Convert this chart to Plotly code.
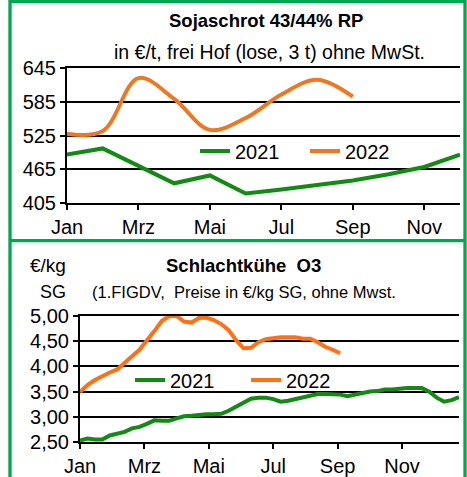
import plotly.graph_objects as go

# ---------------- data ----------------
tick_months = ["Jan", "Mrz", "Mai", "Jul", "Sep", "Nov"]

# Sojaschrot (monthly, €/t)
soja_month_idx_2021 = list(range(12))
soja_2021 = [491, 502, 471, 440, 454, 422, 429, 437, 445, 456, 469, 491]
soja_month_idx_2022 = list(range(9))
soja_2022 = [528, 533, 627, 590, 535, 556, 598, 624, 594]

# Schlachtkühe O3 (weekly, €/kg SG)
kuh_weeks_2021 = list(range(1, 53))
kuh_2021 = [2.53, 2.57, 2.55, 2.55, 2.63, 2.66, 2.70, 2.77, 2.80, 2.86,
            2.93, 2.92, 2.92, 2.97, 3.01, 3.02, 3.04, 3.05, 3.05, 3.06,
            3.12, 3.20, 3.30, 3.36, 3.38, 3.38, 3.35, 3.30, 3.32, 3.35,
            3.38, 3.42, 3.45, 3.45, 3.45, 3.44, 3.41, 3.44, 3.45, 3.50,
            3.51, 3.54, 3.54, 3.56, 3.57, 3.57, 3.57, 3.50, 3.38, 3.30,
            3.33, 3.39]
kuh_weeks_2022 = list(range(1, 37))
kuh_2022 = [3.49, 3.63, 3.73, 3.81, 3.88, 3.94, 4.08, 4.20, 4.33, 4.50,
            4.70, 4.90, 5.00, 5.00, 4.89, 4.87, 4.96, 4.97, 4.92, 4.84,
            4.72, 4.52, 4.36, 4.37, 4.48, 4.54, 4.57, 4.58, 4.58, 4.58,
            4.55, 4.55, 4.48, 4.39, 4.33, 4.26]

soja_yticks = [405, 465, 525, 585, 645]
kuh_yticks = [2.5, 3.0, 3.5, 4.0, 4.5, 5.0]

# ---------------- style ----------------
W, H = 467, 477
FONT = "Liberation Sans, Arial, Helvetica, sans-serif"
GREEN = "#138A13"
ORANGE_TOP = "#EE7722"
ORANGE_BOT = "#FF7014"
FRAME = "#00A651"

def px(x):
    return x / W

def py(y):
    return (H - y) / H

fig = go.Figure()

fig.add_trace(go.Scatter(x=soja_month_idx_2021, y=soja_2021, mode="lines", name="2021",
                         line=dict(color=GREEN, width=4), xaxis="x", yaxis="y", legend="legend"))
fig.add_trace(go.Scatter(x=soja_month_idx_2022, y=soja_2022, mode="lines", name="2022",
                         line=dict(color=ORANGE_TOP, width=4, shape="spline", smoothing=1.0),
                         xaxis="x", yaxis="y", legend="legend"))

fig.add_trace(go.Scatter(x=kuh_weeks_2021, y=kuh_2021, mode="lines", name="2021",
                         line=dict(color=GREEN, width=4), xaxis="x2", yaxis="y2", legend="legend2"))
fig.add_trace(go.Scatter(x=kuh_weeks_2022, y=kuh_2022, mode="lines", name="2022",
                         line=dict(color=ORANGE_BOT, width=4), xaxis="x2", yaxis="y2", legend="legend2"))

axis_common = dict(showline=True, linecolor="black", linewidth=2, ticks="outside",
                   ticklen=5, tickwidth=2, tickcolor="black", zeroline=False,
                   automargin=False,
                   tickfont=dict(family=FONT, size=20, color="black"))

kuh_tickvals = [1 + i * 52 / 12 for i in range(0, 12, 2)]

fig.update_layout(
    template="none",
    width=W, height=H, autosize=False,
    margin=dict(l=0, r=0, t=0, b=0, pad=0),
    paper_bgcolor="white", plot_bgcolor="white",
    separators=",.",
    font=dict(family=FONT, size=18, color="black"),
    xaxis=dict(domain=[px(67), px(460)], range=[0, 11], anchor="y",
               tickvals=[0, 2, 4, 6, 8, 10], ticktext=tick_months,
               showgrid=False, mirror=True, **axis_common),
    yaxis=dict(domain=[py(203), py(68)], range=[405, 645], anchor="x",
               tickvals=soja_yticks, showgrid=True, gridcolor="black", gridwidth=2,
               **axis_common),
    xaxis2=dict(domain=[px(80), px(459)], range=[1, 52], anchor="y2",
                tickvals=kuh_tickvals, ticktext=tick_months,
                showgrid=False, mirror=True, **axis_common),
    yaxis2=dict(domain=[py(442), py(316)], range=[2.5, 5.0], anchor="x2",
                tickvals=kuh_yticks, tickformat=".2f", showgrid=True, gridcolor="black",
                gridwidth=2, **axis_common),
    legend=dict(orientation="h", x=px(195), y=py(151), xanchor="left", yanchor="middle",
                bgcolor="rgba(0,0,0,0)", font=dict(family=FONT, size=20),
                entrywidth=65, itemwidth=30, tracegroupgap=0),
    legend2=dict(orientation="h", x=px(130), y=py(380), xanchor="left", yanchor="middle",
                 bgcolor="rgba(0,0,0,0)", font=dict(family=FONT, size=20),
                 entrywidth=71, itemwidth=30, tracegroupgap=0),
    showlegend=True,
)

annotations = [
    dict(text="<b>Sojaschrot 43/44% RP</b>", x=px(266), y=py(21), size=18.5),
    dict(text="in €/t, frei Hof (lose, 3 t) ohne MwSt.", x=px(269), y=py(52), size=19.5),
    dict(text="<b>Schlachtkühe  O3</b>", x=px(243), y=py(265), size=18.5),
    dict(text="(1.FIGDV,  Preise in €/kg SG, ohne Mwst.", x=px(244), y=py(292), size=16.5),
    dict(text="€/kg", x=px(48), y=py(265), size=19),
    dict(text="SG", x=px(53), y=py(292), size=18),
]
fig.update_layout(annotations=[
    dict(text=a["text"], x=a["x"], y=a["y"], xref="paper", yref="paper",
         xanchor="center", yanchor="middle", showarrow=False,
         font=dict(family=FONT, size=a["size"], color="black"))
    for a in annotations
])

fig.update_layout(shapes=[
    dict(type="rect", xref="paper", yref="paper", x0=px(10), x1=px(465),
         y0=-0.1, y1=py(1.7), line=dict(color=FRAME, width=3.3), layer="above"),
    dict(type="line", xref="paper", yref="paper", x0=px(10), x1=px(465),
         y0=py(240.7), y1=py(240.7), line=dict(color=FRAME, width=3.3), layer="above"),
])

fig.write_html("out.html",
               config={"displayModeBar": False, "staticPlot": True},
               post_script="document.body.style.margin='0';document.body.style.overflow='hidden';")
